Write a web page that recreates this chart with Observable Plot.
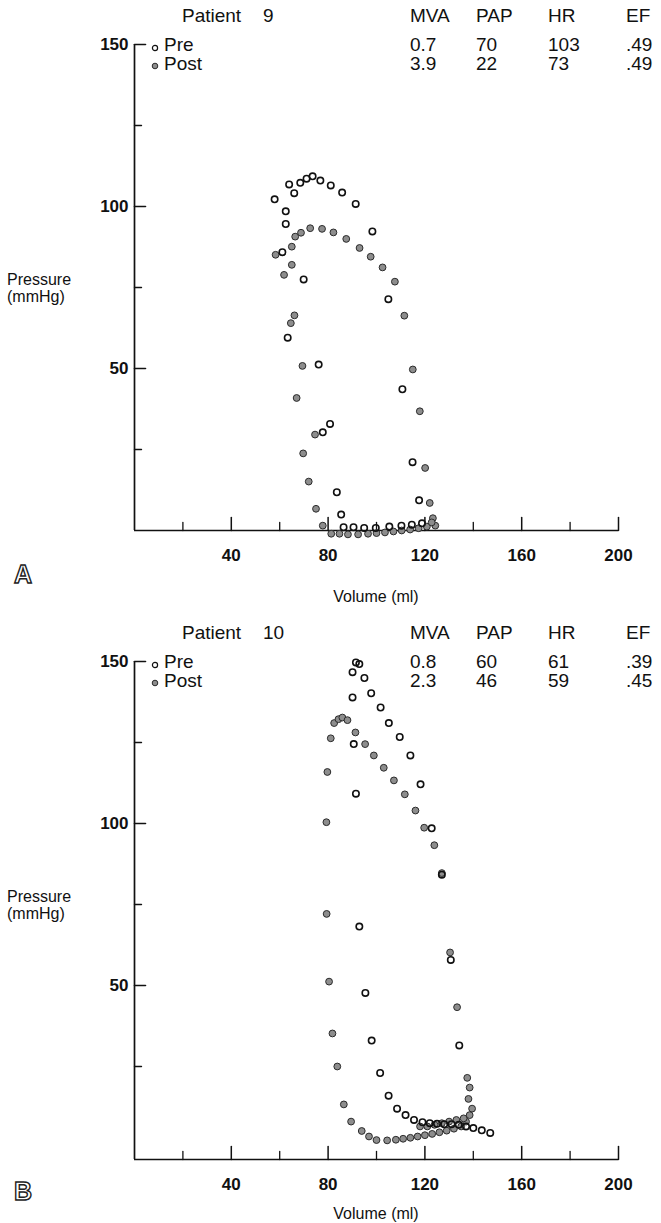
<!DOCTYPE html>
<html><head><meta charset="utf-8">
<script src="https://cdn.jsdelivr.net/npm/d3@7"></script>
<script src="https://cdn.jsdelivr.net/npm/@observablehq/plot@0.6"></script>
<style>
html,body{margin:0;padding:0;background:#fff;overflow:hidden;}
#root{position:relative;width:661px;height:1223px;overflow:hidden;font-family:"Liberation Sans",Arial,Helvetica,sans-serif;color:#111;}
.panel{position:absolute;left:0;width:661px;height:617px;}
.panel svg{position:absolute;left:0;top:0;}
.t{position:absolute;white-space:nowrap;line-height:1;font-size:19px;transform:translateY(-50%);}
.lab{font-size:16px;}
.big{font-size:25px;font-weight:bold;color:#fff;-webkit-text-stroke:1.4px #222;}
</style></head>
<body><div id="root"></div>
<script>
// ---- data ----
const volTicks = [40, 80, 120, 160, 200];
const volMinor = [20, 60, 100, 140, 180];
const presTicks = [50, 100, 150];
const presMinor = [25, 75, 125];
const statCols = ["MVA", "PAP", "HR", "EF"];

// Patient 9 (panel A)
const p9Name = "9";
const p9PreStats = ["0.7", "70", "103", ".49"];
const p9PostStats = ["3.9", "22", "73", ".49"];
const p9PreVol = [57.9,63.9,66.0,68.5,71.1,73.6,76.8,81.1,85.8,91.4,62.5,62.5,98.3,61.1,69.9,104.9,63.3,76.1,110.7,80.8,77.8,114.9,83.6,117.6,85.4,86.4,90.5,94.9,99.7,105.3,110.3,114.6,118.8];
const p9PrePres = [102.2,106.8,104.1,107.3,108.6,109.3,108.0,106.5,104.3,100.8,98.5,94.6,92.3,85.9,77.5,71.4,59.5,51.2,43.6,32.9,30.3,21.1,11.8,9.3,4.9,1.0,1.0,0.8,0.8,1.2,1.5,1.8,2.2];
const p9PostVol = [58.3,65.0,66.4,68.8,72.6,77.5,82.2,87.5,93.0,97.6,102.5,107.6,65.0,61.8,66.1,64.6,69.4,67.0,111.5,115.0,117.9,74.6,69.7,72.0,75.0,77.8,120.1,122.0,123.3,124.3,81.3,84.7,88.2,92.4,96.5,100.0,103.5,107.0,110.4,113.9,117.4,120.8,122.8];
const p9PostPres = [85.1,87.6,90.7,91.9,93.3,93.1,92.0,90.0,87.2,84.5,81.2,76.8,82.0,78.9,66.4,64.0,50.8,40.9,66.3,49.7,36.8,29.6,23.8,15.1,6.7,1.5,19.3,8.5,3.8,1.5,-1.0,-1.0,-1.2,-1.2,-1.0,-0.8,-0.6,-0.3,0.0,0.3,0.7,1.2,2.5];
const p9AxisFloor = 0;

// Patient 10 (panel B)
const p10Name = "10";
const p10PreStats = ["0.8", "60", "61", ".39"];
const p10PostStats = ["2.3", "46", "59", ".45"];
const p10PreVol = [91.5,92.9,90.1,95.0,90.1,97.8,101.7,105.1,109.6,114.0,90.6,118.2,91.5,122.8,127.0,92.9,130.7,95.4,134.2,98.0,101.5,105.0,108.5,112.0,115.5,119.0,122.0,125.0,128.0,131.0,134.0,137.0,140.0,143.5,147.0];
const p10PrePres = [149.7,149.2,146.7,144.9,138.9,140.2,135.8,131.0,126.7,121.0,124.5,112.1,109.2,98.5,84.2,68.2,57.9,47.7,31.5,33.0,23.0,16.0,12.0,10.0,8.5,7.8,7.5,7.3,7.2,7.2,7.0,6.5,6.0,5.3,4.5];
const p10PostVol = [82.5,84.3,85.9,88.0,81.1,91.3,95.3,98.9,103.0,107.2,111.7,116.1,119.7,79.7,79.3,123.9,127.0,79.4,130.4,80.4,133.3,81.8,83.8,86.5,89.5,93.9,96.9,100.0,104.4,108.0,111.0,114.0,117.0,120.0,123.0,126.0,129.0,132.0,135.0,137.0,138.5,139.5,138.0,138.5,137.5,118.0,121.0,124.0,127.0,130.0,133.0,136.0];
const p10PostPres = [131.0,132.2,132.7,131.9,126.3,128.1,124.5,121.0,117.2,113.3,109.0,104.0,98.7,115.9,100.4,93.3,84.7,72.1,60.2,51.2,43.3,35.2,25.0,13.3,8.0,5.1,3.4,2.3,2.2,2.4,2.7,3.0,3.4,3.8,4.2,4.7,5.2,5.8,6.5,8.0,10.0,12.0,15.0,18.5,21.5,6.5,6.5,7.0,7.5,8.0,8.5,9.0];
const p10AxisFloor = -3.7;

// ---- drawing ----
const tickShape = {draw(ctx, l) { ctx.moveTo(0, 0); ctx.lineTo(0, -l); }};
const PX_PER_UNIT = 3.24;

function makePlot(preV, preP, postV, postP, floor) {
  const pre = preV.map((v, i) => ({v, p: preP[i]}));
  const post = postV.map((v, i) => ({v, p: postP[i]}));
  const marginTop = 44;
  const plotH = Math.round((150 - floor) * PX_PER_UNIT);
  return Plot.plot({
    width: 661, height: 617,
    marginLeft: 134, marginRight: 43, marginTop, marginBottom: 617 - marginTop - plotH,
    x: {domain: [0, 200], label: null},
    y: {domain: [floor, 150], label: null},
    style: {background: "transparent", fontFamily: "Liberation Sans, Arial, sans-serif", color: "#111", overflow: "visible"},
    marks: [
      Plot.ruleX([0], {y1: floor, y2: 150, strokeWidth: 1.7, stroke: "#111"}),
      Plot.ruleY([floor], {x1: 0, x2: 200, strokeWidth: 1.7, stroke: "#111"}),
      Plot.vector(presTicks, {y: d => d, frameAnchor: "left", rotate: 90, length: 11, anchor: "start", shape: tickShape, strokeWidth: 1.6, stroke: "#111"}),
      Plot.vector(presMinor, {y: d => d, frameAnchor: "left", rotate: 90, length: 7, anchor: "start", shape: tickShape, strokeWidth: 1.4, stroke: "#111"}),
      Plot.vector(volTicks, {x: d => d, frameAnchor: "bottom", rotate: 0, length: 13, anchor: "start", shape: tickShape, strokeWidth: 1.5, stroke: "#111"}),
      Plot.vector(volMinor, {x: d => d, frameAnchor: "bottom", rotate: 0, length: 8, anchor: "start", shape: tickShape, strokeWidth: 1.3, stroke: "#111"}),
      Plot.axisY(presTicks, {tickSize: 0, tickPadding: 6, fontSize: 17, fontWeight: "bold", label: null}),
      Plot.axisX(volTicks, {tickSize: 0, tickPadding: 18, fontSize: 17, fontWeight: "bold", label: null}),
      Plot.dot(post, {x: "v", y: "p", r: 3.4, fill: "#8d8d8d", stroke: "#2b2b2b", strokeWidth: 1}),
      Plot.dot(pre, {x: "v", y: "p", r: 3.2, fill: "none", stroke: "#111", strokeWidth: 1.6})
    ]
  });
}

const root = document.getElementById("root");
function txt(parent, s, x, y, cls, extra) {
  const e = document.createElement("div");
  e.className = "t" + (cls ? " " + cls : "");
  e.style.left = x + "px"; e.style.top = y + "px";
  if (extra) Object.assign(e.style, extra);
  e.innerHTML = s;
  parent.appendChild(e);
  return e;
}
const openC = '<svg width="8" height="8" style="vertical-align:middle"><circle cx="4" cy="4" r="2.6" fill="none" stroke="#111" stroke-width="1.2"/></svg>';
const fillC = '<svg width="8" height="8" style="vertical-align:middle"><circle cx="4" cy="4" r="2.8" fill="#8d8d8d" stroke="#2b2b2b" stroke-width="1"/></svg>';

function makePanel(top, letter, name, preStats, postStats, preV, preP, postV, postP, floor) {
  const p = document.createElement("div");
  p.className = "panel"; p.style.top = top + "px";
  root.appendChild(p);
  p.appendChild(makePlot(preV, preP, postV, postP, floor));
  txt(p, "Patient", 182, 15);
  txt(p, name, 263, 15);
  const colX = [410, 476, 548, 626];
  statCols.forEach((c, i) => {
    txt(p, c, colX[i], 15);
    txt(p, preStats[i], colX[i], 44);
    txt(p, postStats[i], colX[i], 63);
  });
  txt(p, openC, 151, 44);
  txt(p, "Pre", 164, 44);
  txt(p, fillC, 151, 62);
  txt(p, "Post", 164, 63);
  txt(p, "Pressure", 7, 280, "lab");
  txt(p, "(mmHg)", 7, 297, "lab");
  txt(p, letter, 14, 574, "big");
  txt(p, "Volume (ml)", 376, 597, "lab", {transform: "translate(-50%,-50%)"});
}
makePanel(0, "A", p9Name, p9PreStats, p9PostStats, p9PreVol, p9PrePres, p9PostVol, p9PostPres, p9AxisFloor);
makePanel(617, "B", p10Name, p10PreStats, p10PostStats, p10PreVol, p10PrePres, p10PostVol, p10PostPres, p10AxisFloor);
</script></body></html>
